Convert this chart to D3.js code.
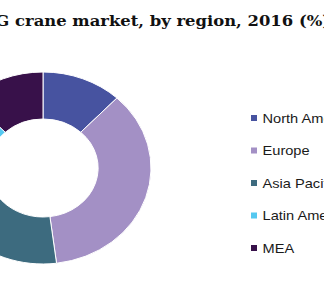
<!DOCTYPE html>
<html>
<head>
<meta charset="utf-8">
<script src="https://cdn.jsdelivr.net/npm/d3@7"></script>
<style>
  html, body { margin: 0; padding: 0; background: #fff; overflow: hidden; }
  svg { display: block; }
</style>
</head>
<body>
<div id="chart"></div>
<script>
// data
const regions = ['North America', 'Europe', 'Asia Pacific', 'Latin America', 'MEA'];
const shares = [12, 36, 31, 9, 12];
const colors = ['#4753a0', '#a390c5', '#3d6b7f', '#55c8f0', '#38114a'];
const title = 'Global RTG crane market, by region, 2016 (%)';

const W = 324, H = 300;
// the source picture was stretched sideways, so everything gets the same stretch
const stretch = 1.125;

const svg = d3.select('#chart').append('svg')
    .attr('width', W)
    .attr('height', H);

// title is wider than the frame, anchored at the right so it gets cropped left
svg.append('g')
    .attr('transform', `translate(330,26) scale(${stretch},1)`)
    .append('text')
    .attr('text-anchor', 'end')
    .style('font-family', '"DejaVu Serif", serif')
    .style('font-weight', 'bold')
    .style('font-size', '14.6px')
    .style('fill', '#111')
    .text(title);

// donut
const cx = 43, cy = 168, rOuter = 96, rInner = 49;

const pie = d3.pie().sort(null).value((d) => d.value);
const arc = d3.arc().innerRadius(rInner).outerRadius(rOuter);
const data = regions.map((r, i) => ({ key: r, value: shares[i], color: colors[i] }));

const donutG = svg.append('g')
    .attr('transform', `translate(${cx},${cy}) scale(${stretch},1)`);

donutG.selectAll('path')
    .data(pie(data))
    .enter()
    .append('path')
    .attr('d', arc)
    .attr('fill', (d) => d.data.color)
    .attr('stroke', '#fff')
    .attr('stroke-width', 1)
    .attr('vector-effect', 'non-scaling-stroke');

// legend
const legendY = d3.scalePoint()
    .domain(regions)
    .range([118, 248]);

const items = svg.append('g').selectAll('g')
    .data(data)
    .enter()
    .append('g')
    .attr('transform', (d) => `translate(251,${legendY(d.key)})`);

items.append('rect')
    .attr('x', 0)
    .attr('y', -3)
    .attr('width', 6)
    .attr('height', 6)
    .attr('fill', (d) => d.color);

items.append('text')
    .attr('transform', `translate(11.5,4.5) scale(${stretch},1)`)
    .style('font-family', '"Liberation Sans", Arial, sans-serif')
    .style('font-size', '13px')
    .style('fill', '#1a1a1a')
    .text((d) => d.key);
</script>
</body>
</html>
